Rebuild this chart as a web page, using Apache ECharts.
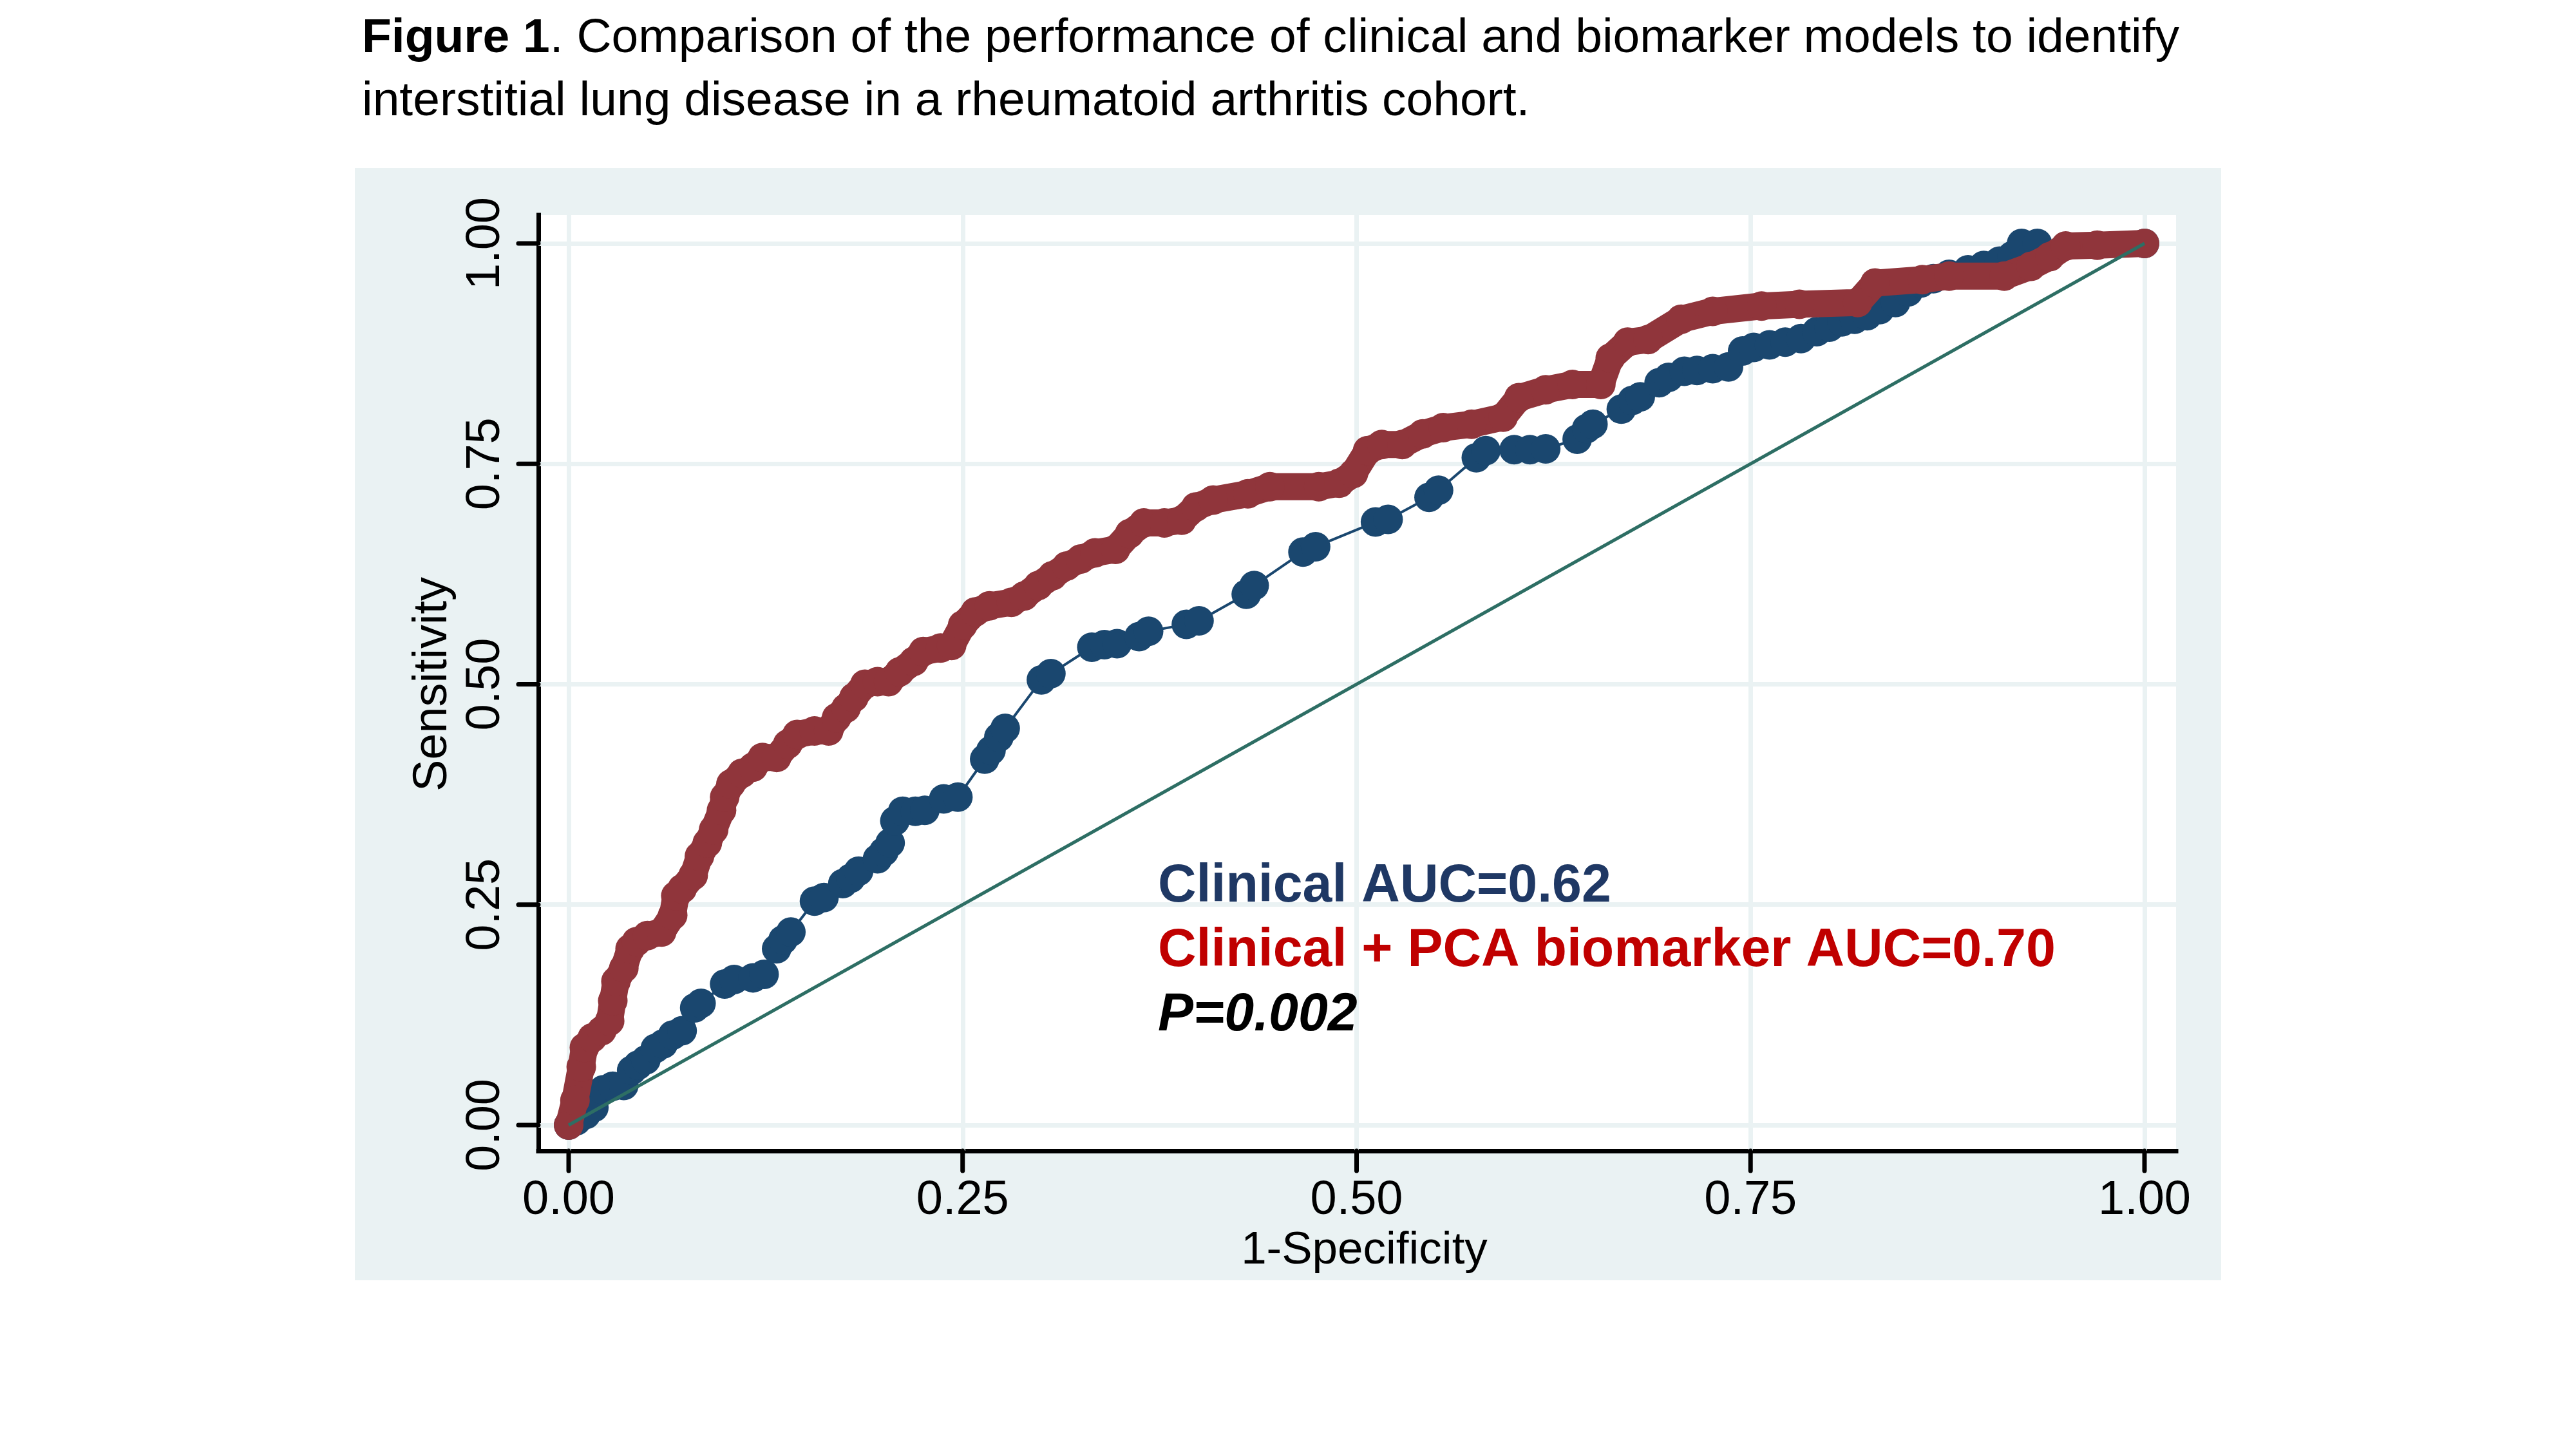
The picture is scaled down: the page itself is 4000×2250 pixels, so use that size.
<!DOCTYPE html>
<html><head><meta charset="utf-8">
<script src="https://cdn.jsdelivr.net/npm/echarts@6/dist/echarts.min.js"></script>
<style>html,body{margin:0;padding:0;background:#fff}#c{width:4000px;height:2250px}</style>
</head><body><div id="c"></div>
<script>
// ---- tick values ----
const xTicks = [0, 0.25, 0.5, 0.75, 1];
const yTicks = [0, 0.25, 0.5, 0.75, 1];

// ---- Clinical model ROC (1-specificity, sensitivity) ----
const clinicalX = [0,0.005,0.011,0.016,0.022,0.028,0.035,0.040,0.044,0.049,0.055,0.060,0.066,0.072,0.080,0.084,0.099,0.105,0.117,0.124,0.132,0.136,0.141,0.156,0.162,0.174,0.179,0.184,0.196,0.200,0.204,0.207,0.212,0.220,0.226,0.238,0.247,0.264,0.268,0.273,0.277,0.300,0.306,0.332,0.340,0.348,0.362,0.368,0.392,0.400,0.430,0.435,0.466,0.474,0.512,0.520,0.546,0.552,0.576,0.582,0.600,0.610,0.620,0.640,0.646,0.650,0.668,0.675,0.680,0.692,0.698,0.708,0.716,0.726,0.736,0.745,0.752,0.762,0.772,0.782,0.792,0.800,0.808,0.816,0.824,0.832,0.842,0.850,0.858,0.866,0.876,0.888,0.898,0.908,0.916,0.922,0.932,1];
const clinicalY = [0,0.005,0.012,0.020,0.040,0.044,0.045,0.062,0.068,0.074,0.087,0.092,0.102,0.107,0.133,0.138,0.160,0.165,0.167,0.171,0.200,0.210,0.219,0.254,0.258,0.274,0.280,0.288,0.302,0.310,0.320,0.345,0.356,0.356,0.357,0.370,0.372,0.415,0.425,0.440,0.450,0.505,0.512,0.542,0.545,0.546,0.554,0.560,0.568,0.572,0.602,0.612,0.650,0.656,0.684,0.687,0.712,0.720,0.757,0.765,0.766,0.766,0.767,0.778,0.790,0.795,0.812,0.822,0.826,0.842,0.848,0.855,0.856,0.858,0.860,0.878,0.882,0.885,0.888,0.892,0.900,0.905,0.911,0.914,0.918,0.925,0.933,0.945,0.955,0.960,0.965,0.970,0.975,0.980,0.986,1,1,1];

// ---- Clinical + PCA biomarker model ROC ----
const combinedX = [0,0.004,0.008,0.010,0.015,0.021,0.026,0.028,0.030,0.035,0.039,0.043,0.050,0.059,0.066,0.068,0.072,0.079,0.083,0.088,0.092,0.097,0.099,0.103,0.110,0.117,0.123,0.132,0.139,0.145,0.156,0.165,0.170,0.176,0.181,0.188,0.196,0.203,0.210,0.219,0.225,0.236,0.243,0.250,0.258,0.267,0.281,0.289,0.298,0.307,0.316,0.325,0.334,0.347,0.356,0.365,0.378,0.389,0.398,0.409,0.431,0.445,0.476,0.489,0.498,0.507,0.516,0.529,0.542,0.555,0.573,0.593,0.603,0.620,0.637,0.655,0.661,0.672,0.685,0.706,0.726,0.757,0.781,0.818,0.829,0.859,0.876,0.911,0.928,0.940,0.950,0.970,1];
const combinedY = [0,0.028,0.066,0.088,0.099,0.107,0.118,0.141,0.163,0.178,0.200,0.208,0.215,0.219,0.238,0.260,0.268,0.283,0.305,0.320,0.335,0.357,0.372,0.387,0.399,0.406,0.417,0.417,0.432,0.443,0.447,0.447,0.462,0.473,0.485,0.500,0.503,0.503,0.514,0.526,0.537,0.541,0.544,0.567,0.582,0.589,0.593,0.600,0.612,0.623,0.634,0.642,0.649,0.653,0.671,0.683,0.683,0.686,0.701,0.709,0.716,0.724,0.724,0.728,0.739,0.765,0.772,0.772,0.784,0.791,0.795,0.803,0.825,0.834,0.840,0.840,0.870,0.888,0.891,0.914,0.923,0.929,0.931,0.933,0.955,0.959,0.963,0.963,0.974,0.985,0.997,0.998,1];

// ---- reference (chance) line ----
const refX = [0, 1];
const refY = [0, 1];

const annotations = ['Clinical AUC=0.62', 'Clinical + PCA biomarker AUC=0.70', 'P=0.002'];
const titleBold = 'Figure 1';
const titleRest1 = '. Comparison of the performance of clinical and biomarker models to identify';
const titleLine2 = 'interstitial lung disease in a rheumatoid arthritis cohort.';

const FONT = '"Liberation Sans", Arial, Helvetica, sans-serif';
const zip = (a, b) => a.map((v, i) => [v, b[i]]);

const X0_MIN = -0.01921, X0_MAX = 1.02003, Y0_MIN = -0.02922, Y0_MAX = 1.03214;
const TICK_LEN = 31, TICK_W = 7;

const chart = echarts.init(document.getElementById('c'), null, {renderer: 'canvas', width: 4000, height: 2250});
chart.setOption({
  animation: false,
  backgroundColor: '#ffffff',
  title: {
    text: '{b|' + titleBold + '}{r|' + titleRest1 + '}\n{r|' + titleLine2 + '}',
    left: 562, top: 11, padding: 0,
    textStyle: {
      fontFamily: FONT, fontSize: 75, color: '#000', lineHeight: 98,
      rich: {
        b: {fontFamily: FONT, fontSize: 75, fontWeight: 'bold', color: '#000', lineHeight: 98},
        r: {fontFamily: FONT, fontSize: 75, fontWeight: 'normal', color: '#000', lineHeight: 98}
      }
    }
  },
  graphic: [
    {id: 'panel', type: 'rect', z: -100, silent: true, shape: {x: 551, y: 261, width: 2898, height: 1727}, style: {fill: '#eaf2f3'}},
    {id: 'ann0', type: 'text', z: 100, x: 1798, y: 1377, style: {text: annotations[0], fill: '#1f3864', font: 'bold 82.5px ' + FONT, verticalAlign: 'middle', align: 'left'}},
    {id: 'ann1', type: 'text', z: 100, x: 1798, y: 1477, style: {text: annotations[1], fill: '#c00000', font: 'bold 82.5px ' + FONT, verticalAlign: 'middle', align: 'left'}},
    {id: 'ann2', type: 'text', z: 100, x: 1798, y: 1577, style: {text: annotations[2], fill: '#000000', font: 'italic bold 82.5px ' + FONT, verticalAlign: 'middle', align: 'left'}}
  ],
  grid: [
    {left: 836, right: 621, top: 334, bottom: 463, show: true, backgroundColor: '#ffffff', borderWidth: 0},
    {left: 883, right: 670, top: 378, bottom: 503, show: false}
  ],
  xAxis: [
    {
      gridIndex: 0, type: 'value', min: X0_MIN, max: X0_MAX,
      axisLine: {show: true, onZero: false, lineStyle: {color: '#000', width: 7, cap: 'square'}},
      axisTick: {show: false}, axisLabel: {show: false}, splitLine: {show: false}
    },
    {
      gridIndex: 1, type: 'value', min: 0, max: 1, interval: 0.25, offset: 40,
      name: '1-Specificity', nameLocation: 'middle', nameGap: 110,
      nameTextStyle: {fontFamily: FONT, fontSize: 71, color: '#000', padding: [0, 0, 0, 24]},
      axisLine: {show: false, onZero: false},
      axisTick: {show: false},
      axisLabel: {show: true, margin: 41, fontFamily: FONT, fontSize: 74, color: '#000', formatter: v => v.toFixed(2)},
      splitLine: {show: false}
    }
  ],
  yAxis: [
    {
      gridIndex: 0, type: 'value', min: Y0_MIN, max: Y0_MAX,
      axisLine: {show: true, onZero: false, lineStyle: {color: '#000', width: 7, cap: 'square'}},
      axisTick: {show: false}, axisLabel: {show: false}, splitLine: {show: false}
    },
    {
      gridIndex: 1, type: 'value', min: 0, max: 1, interval: 0.25, offset: 47,
      name: 'Sensitivity', nameLocation: 'middle', nameGap: 126,
      nameTextStyle: {fontFamily: FONT, fontSize: 74, color: '#000'},
      axisLine: {show: false, onZero: false},
      axisTick: {show: false},
      axisLabel: {show: true, rotate: 90, margin: 44, fontFamily: FONT, fontSize: 74, color: '#000', formatter: v => v.toFixed(2)},
      splitLine: {show: false}
    }
  ],
  series: [
    {
      name: 'grid', type: 'line', xAxisIndex: 0, yAxisIndex: 0, z: 1, data: [[0, 0]], symbol: 'none', lineStyle: {opacity: 0}, silent: true,
      markLine: {
        silent: true, symbol: 'none', label: {show: false}, animation: false, z: 1,
        lineStyle: {color: '#eaf2f3', width: 7, type: 'solid'},
        data: xTicks.map(v => ({xAxis: v})).concat(yTicks.map(v => ({yAxis: v})))
      }
    },
    {
      name: 'Clinical', type: 'line', xAxisIndex: 0, yAxisIndex: 0, z: 3, data: zip(clinicalX, clinicalY),
      symbol: 'circle', symbolSize: 46, showAllSymbol: true,
      itemStyle: {color: '#1a476f'}, lineStyle: {color: '#1a476f', width: 4}
    },
    {
      name: 'Clinical + PCA', type: 'line', xAxisIndex: 0, yAxisIndex: 0, z: 4, data: zip(combinedX, combinedY),
      symbol: 'circle', symbolSize: 46, showAllSymbol: true,
      itemStyle: {color: '#90353b'}, lineStyle: {color: '#90353b', width: 42, cap: 'round', join: 'round'}
    },
    {
      name: 'Reference', type: 'line', xAxisIndex: 0, yAxisIndex: 0, z: 5, data: zip(refX, refY), symbol: 'none',
      lineStyle: {color: '#2d6e64', width: 5}
    }
  ]
});

// Axis ticks: positions taken from the library's own axis scales
const tickEls = [];
xTicks.forEach((v, i) => {
  const p = chart.convertToPixel({xAxisIndex: 0, yAxisIndex: 0}, [v, Y0_MIN]);
  tickEls.push({id: 'xt' + i, type: 'line', z: 50, silent: true,
    shape: {x1: p[0], y1: p[1], x2: p[0], y2: p[1] + TICK_LEN},
    style: {stroke: '#000000', lineWidth: TICK_W, lineCap: 'round'}});
});
yTicks.forEach((v, i) => {
  const p = chart.convertToPixel({xAxisIndex: 0, yAxisIndex: 0}, [X0_MIN, v]);
  tickEls.push({id: 'yt' + i, type: 'line', z: 50, silent: true,
    shape: {x1: p[0], y1: p[1], x2: p[0] - TICK_LEN, y2: p[1]},
    style: {stroke: '#000000', lineWidth: TICK_W, lineCap: 'round'}});
});
chart.setOption({graphic: tickEls});
</script></body></html>
